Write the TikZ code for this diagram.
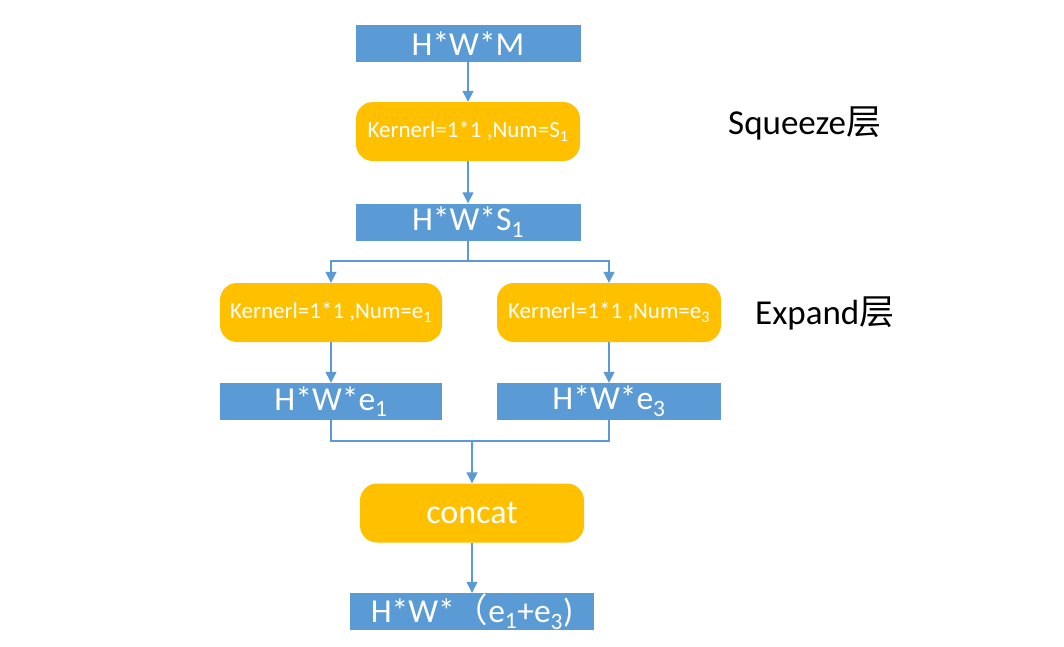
\documentclass[tikz,border=0pt]{standalone}
\usepackage{fontspec}
\setmainfont{Carlito}
\newfontfamily\cjk{Noto Sans CJK SC}
\usetikzlibrary{arrows.meta}
\definecolor{boxblue}{HTML}{5B9BD5}
\definecolor{boxorange}{HTML}{FFC000}
\definecolor{linkblue}{HTML}{5B9BD5}
\tikzset{
  bluebox/.style={fill=boxblue, draw=none, text=white, minimum width=225pt, minimum height=37pt, inner sep=0pt, font=\fontsize{33.5}{35}\selectfont},
  orangebox/.style={fill=boxorange, draw=none, text=white, rounded corners=17pt, minimum width=224pt, minimum height=59pt, inner sep=0pt, font=\fontsize{23}{25}\selectfont},
  link/.style={draw=linkblue, line width=1.3pt, -{Triangle[length=11pt,width=11pt]}},
  plain/.style={draw=linkblue, line width=1.3pt},
  side/.style={font=\fontsize{35}{37}\selectfont, text=black, inner sep=0pt}
}
\begin{document}
\begin{tikzpicture}[x=1pt,y=-1pt]
\useasboundingbox (0,0) rectangle (1064,646);
\node[bluebox] (hwm) at (468,43.5) {H*W*M};
\node[orangebox] (k1) at (468,131.5) {Kernerl=1*1 ,Num=S\textsubscript{1}};
\node[bluebox] (hws) at (468,222) {H*W*S\textsubscript{1}};
\node[orangebox, minimum width=222pt] (ke1) at (331,312.5) {Kernerl=1*1 ,Num=e\textsubscript{1}};
\node[orangebox] (ke3) at (609,312.5) {Kernerl=1*1 ,Num=e\textsubscript{3}};
\node[bluebox, minimum width=222pt] (hwe1) at (331,401.5) {H*W*e\textsubscript{1}};
\node[bluebox, minimum width=224pt] (hwe3) at (609,401.5) {H*W*e\textsubscript{3}};
\node[orangebox, font=\fontsize{34}{36}\selectfont] (cat) at (472,513) {concat};
\node[bluebox, minimum width=244pt] (out) at (472,611.5) {H*W*{\cjk （}e\textsubscript{1}+e\textsubscript{3})};
\node[side, anchor=west] (sq) at (728,123) {Squeeze{\cjk 层}};
\node[side, anchor=west] (ex) at (755,313) {Expand{\cjk 层}};
\coordinate (split) at (468,261);
\coordinate (merge) at (472,441);
\draw[link] (hwm) -- (k1);
\draw[link] (k1) -- (hws);
\draw[plain] (hws.south) -- (split);
\draw[link] (split) -| (ke1.north);
\draw[link] (split) -| (ke3.north);
\draw[link] (ke1) -- (hwe1);
\draw[link] (ke3) -- (hwe3);
\draw[plain] (hwe1.south) |- (merge);
\draw[plain] (hwe3.south) |- (merge);
\draw[link] (merge) -- (cat);
\draw[link] (cat) -- (out);
\end{tikzpicture}
\end{document}
